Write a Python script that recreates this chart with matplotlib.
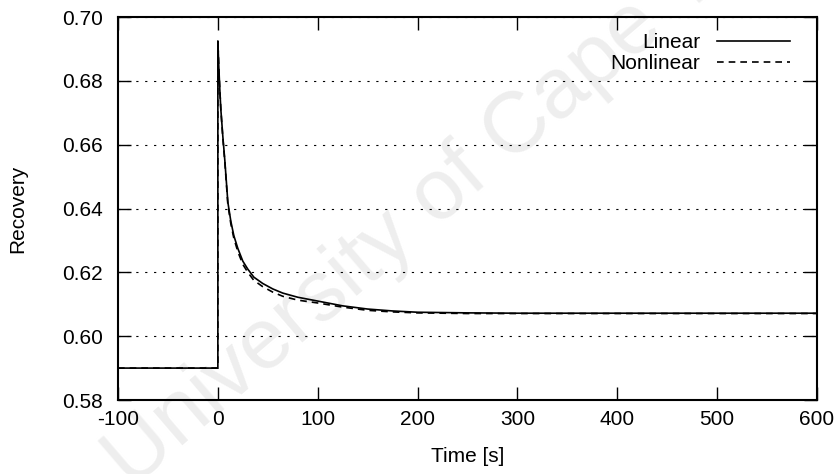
################################################################################
# Recovery response after a step at t = 0 (linear vs nonlinear model)
################################################################################
import numpy as np
import matplotlib
matplotlib.use('Agg')
import matplotlib.pyplot as plt
import matplotlib as mpl

# %%
# Data
t_lin = [-100, 0, 0, 1, 2, 3, 5, 7, 10, 13, 16, 20, 25, 30, 36, 45, 55, 65,
         80, 100, 125, 150, 175, 200, 250, 300, 400, 500, 600]
rec_lin = [0.590, 0.590, 0.6925, 0.684, 0.677, 0.671, 0.6625, 0.655, 0.642,
           0.636, 0.6315, 0.6275, 0.6235, 0.621, 0.6185, 0.6165, 0.6148,
           0.6135, 0.6122, 0.6110, 0.6095, 0.6085, 0.6079, 0.6075, 0.6073,
           0.6072, 0.6072, 0.6072, 0.6072]

t_nl = t_lin
rec_nl = [0.590, 0.590, 0.6925, 0.684, 0.677, 0.671, 0.662, 0.6545, 0.6413,
          0.6352, 0.6307, 0.6265, 0.6225, 0.6200, 0.6175, 0.6155, 0.6138,
          0.6125, 0.6113, 0.6104, 0.6091, 0.6081, 0.6076, 0.6073, 0.6071,
          0.6071, 0.6071, 0.6071, 0.6071]

xticks = [-100, 0, 100, 200, 300, 400, 500, 600]
yticks = [0.58, 0.60, 0.62, 0.64, 0.66, 0.68, 0.70]

# %%
# Figure parameters
plt.rc('font', family='Liberation Sans')
mpl.rcParams['axes.unicode_minus'] = False
fsize = 15

fig = plt.figure(figsize=(8.38, 4.74), dpi=100)
ax = fig.add_axes([0.1408, 0.1561, 0.8342, 0.808])

# watermark
fig.text(0.56, 0.64, 'University of Cape Town', fontsize=62, color='#eeeeee',
         rotation=40.6, ha='center', va='center', zorder=-1)
ax.set_facecolor('none')

ax.plot(t_lin, rec_lin, '-', color='black', lw=1.2, label='Linear')
ax.plot(t_nl, rec_nl, color='black', lw=1.2, dashes=(4, 3), label='Nonlinear')

ax.set_xlim(-100, 600)
ax.set_ylim(0.58, 0.70)
ax.set_xticks(xticks)
ax.set_yticks(yticks)
ax.yaxis.set_major_formatter(mpl.ticker.FormatStrFormatter('%.2f'))
ax.tick_params(direction='in', top=True, right=True, length=9.5, width=1.0,
               labelsize=fsize, color='black')
ax.tick_params(axis='x', pad=7)
ax.tick_params(axis='y', pad=11)
for s in ax.spines.values():
    s.set_linewidth(1.5)

ax.grid(axis='y', color='black', lw=0.8, linestyle=(0, (2, 6)))
ax.set_axisbelow(True)

ax.set_xlabel('Time [s]', fontsize=fsize)
ax.set_ylabel('Recovery', fontsize=fsize)
ax.xaxis.set_label_coords(0.5, -0.123)
ax.yaxis.set_label_coords(-0.13, 0.5)

leg = ax.legend(loc='upper right', bbox_to_anchor=(0.961, 0.958),
                markerfirst=False, frameon=False, fontsize=fsize,
                handlelength=3.5, handletextpad=0.8, labelspacing=0.1,
                borderpad=0, borderaxespad=0)

plt.savefig('out.png', dpi=100)
plt.close()
